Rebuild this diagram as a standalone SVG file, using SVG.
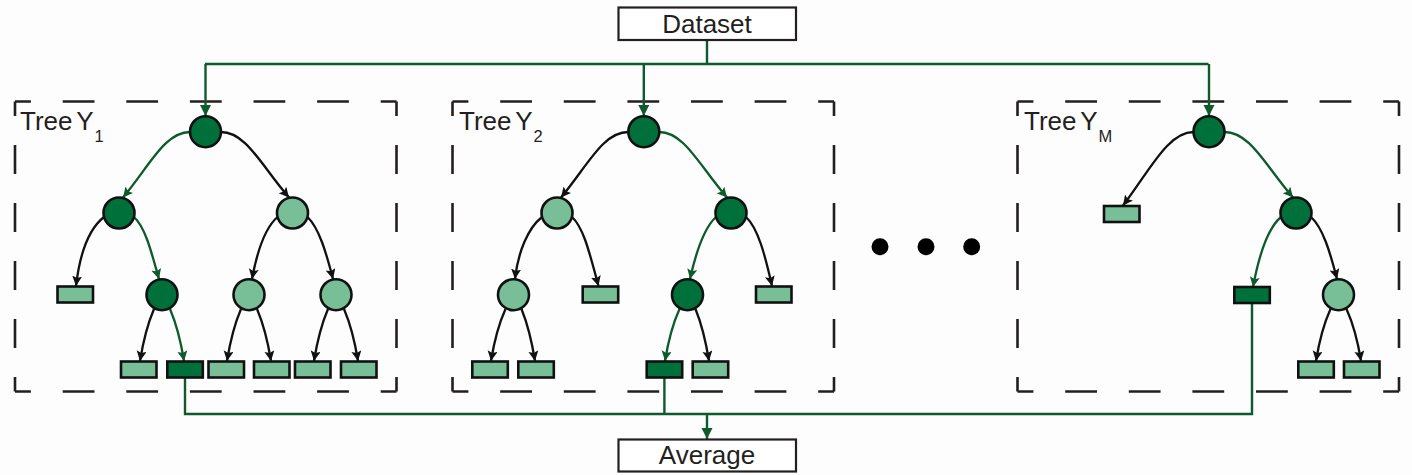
<svg xmlns="http://www.w3.org/2000/svg" width="1412" height="475" viewBox="0 0 1412 475">
<style>
.bg{fill:#fdfdfd}
.dash{stroke:#231f20;stroke-width:2.6;fill:none}
.h{stroke-dasharray:31.8 31.8;stroke-dashoffset:15.9}
.v{stroke-dasharray:29 29;stroke-dashoffset:14.5}
.nd{fill:#00703a;stroke:#111;stroke-width:2.6}
.nl{fill:#78bf98;stroke:#111;stroke-width:2.6}
.ld{fill:#00703a;stroke:#111;stroke-width:2.6}
.ll{fill:#78bf98;stroke:#111;stroke-width:2.6}
.eg{fill:none;stroke:#0d5a2c;stroke-width:2.3;marker-end:url(#ag)}
.eb{fill:none;stroke:#111;stroke-width:2.3;marker-end:url(#ab)}
.conn{fill:none;stroke:#0d5a2c;stroke-width:2.4}
.box{fill:#fff;stroke:#231f20;stroke-width:2.2}
.t{font-family:"Liberation Sans",Arial,sans-serif;fill:#231f20}
.lbl{font-size:26px;word-spacing:-3px}
.sub{font-size:16.5px}
</style>
<defs>
<marker id="ag" markerUnits="userSpaceOnUse" markerWidth="11" markerHeight="11" refX="10" refY="5" orient="auto"><path d="M0,0 L10,5 L0,10 L2,5 z" fill="#0d5a2c"/></marker>
<marker id="ab" markerUnits="userSpaceOnUse" markerWidth="11" markerHeight="11" refX="10" refY="5" orient="auto"><path d="M0,0 L10,5 L0,10 L2,5 z" fill="#111"/></marker>
<marker id="ac" markerUnits="userSpaceOnUse" markerWidth="12" markerHeight="12" refX="11" refY="5.5" orient="auto"><path d="M0,0 L11,5.5 L0,11 z" fill="#0d5a2c"/></marker>
</defs>
<rect class="bg" x="0" y="0" width="1412" height="475"/>

<g id="frames">
<path class="dash h" d="M15,101.5 H396.5 M15,391.5 H396.5"/>
<path class="dash v" d="M15,101.5 V391.5 M396.5,101.5 V391.5"/>
<path class="dash h" d="M452.5,101.5 H834 M452.5,391.5 H834"/>
<path class="dash v" d="M452.5,101.5 V391.5 M834,101.5 V391.5"/>
<path class="dash h" d="M1017.5,101.5 H1399 M1017.5,391.5 H1399"/>
<path class="dash v" d="M1017.5,101.5 V391.5 M1399,101.5 V391.5"/>
</g>

<g id="labels" class="t">
<text class="lbl" x="20" y="129.5">Tree Y<tspan class="sub" dx="1" dy="12">1</tspan></text>
<text class="lbl" x="459" y="129.5">Tree Y<tspan class="sub" dx="1" dy="12">2</tspan></text>
<text class="lbl" x="1024" y="129.5">Tree Y<tspan class="sub" dx="1" dy="12">M</tspan></text>
</g>

<g id="connectors">
<path class="conn" d="M707,40 V64 M205,64 H1208.5"/>
<path class="conn" marker-end="url(#ac)" d="M205.5,64 V116"/>
<path class="conn" marker-end="url(#ac)" d="M643.8,64 V116"/>
<path class="conn" marker-end="url(#ac)" d="M1209,64 V116"/>
<path class="conn" d="M185,377.5 V414 H1252 V302.5 M664.4,377.5 V414"/>
<path class="conn" marker-end="url(#ac)" d="M707,414 V439"/>

<path class="eg" d="M190,132 C165,132 150,165 123,197.5"/>
<path class="eb" d="M221,132 C246,132 261,165 289,197.5"/>
<path class="eb" d="M104,217 C90,228 80,252 76,286"/>
<path class="eg" d="M134,217 C146,228 152,255 159,279"/>
<path class="eb" d="M277.5,217 C265,228 257,252 252,279"/>
<path class="eb" d="M307.5,217 C319,228 326,252 333,279"/>
<path class="eb" d="M154,309 Q145,330 140,361"/>
<path class="eg" d="M170,309 Q179,330 184,361"/>
<path class="eb" d="M241,309 Q232,330 227,361"/>
<path class="eb" d="M257,309 Q266,330 271,361"/>
<path class="eb" d="M328,309 Q319,330 314,361"/>
<path class="eb" d="M344,309 Q353,330 358,361"/>

<path class="eb" d="M628.3,132 C603,132 588,165 561,197.5"/>
<path class="eg" d="M659.3,132 C684,132 699,165 727,197.5"/>
<path class="eb" d="M542,217 C528,228 518,252 515,279"/>
<path class="eb" d="M572,217 C584,228 590,255 598.5,286"/>
<path class="eg" d="M716,217 C704,228 696,252 690,279"/>
<path class="eb" d="M746,217 C758,228 765,255 772,286"/>
<path class="eb" d="M505.5,309 Q496,330 491,361"/>
<path class="eb" d="M521.5,309 Q530,330 535,361"/>
<path class="eg" d="M679.5,309 Q670,330 665,361"/>
<path class="eb" d="M695.5,309 Q704,330 709,361"/>

<path class="eb" d="M1193.5,132 C1168,132 1150,170 1123,205.5"/>
<path class="eg" d="M1224.5,132 C1250,132 1265,165 1293,197.5"/>
<path class="eg" d="M1281,217 C1268,228 1259,255 1253,287"/>
<path class="eb" d="M1311,217 C1323,228 1330,252 1337,279"/>
<path class="eb" d="M1330.5,309 Q1321,330 1316,361"/>
<path class="eb" d="M1346.5,309 Q1356,330 1361,361"/>
</g>

<g id="dataset"><rect class="box" x="618.5" y="7.5" width="177.5" height="32.5"/><text class="t" x="707" y="33" font-size="26" text-anchor="middle">Dataset</text></g>
<g id="average"><rect class="box" x="618.5" y="439.5" width="177.5" height="32"/><text class="t" x="707" y="464" font-size="26" text-anchor="middle">Average</text></g>

<g id="tree1">
<circle class="nd" cx="205.5" cy="131.7" r="15.5"/>
<circle class="nd" cx="119" cy="213" r="15.5"/>
<circle class="nl" cx="292.5" cy="213" r="15.5"/>
<rect class="ll" x="57.5" y="286.5" width="35.5" height="16"/>
<circle class="nd" cx="162" cy="294.7" r="15.5"/>
<circle class="nl" cx="249" cy="294.7" r="15.5"/>
<circle class="nl" cx="336" cy="294.7" r="15.5"/>
<rect class="ll" x="121" y="361.5" width="35.5" height="16"/>
<rect class="ld" x="167.3" y="361.5" width="35.5" height="16"/>
<rect class="ll" x="208.5" y="361.5" width="35.5" height="16"/>
<rect class="ll" x="254" y="361.5" width="35.5" height="16"/>
<rect class="ll" x="295" y="361.5" width="35.5" height="16"/>
<rect class="ll" x="341" y="361.5" width="35.5" height="16"/>
</g>

<g id="tree2">
<circle class="nd" cx="643.8" cy="131.7" r="15.5"/>
<circle class="nl" cx="557" cy="213" r="15.5"/>
<circle class="nd" cx="731" cy="213" r="15.5"/>
<circle class="nl" cx="513.5" cy="294.7" r="15.5"/>
<rect class="ll" x="582.7" y="286.5" width="35.5" height="16"/>
<circle class="nd" cx="687.5" cy="294.7" r="15.5"/>
<rect class="ll" x="756" y="286.5" width="35.5" height="16"/>
<rect class="ll" x="472.3" y="361.5" width="35.5" height="16"/>
<rect class="ll" x="518.3" y="361.5" width="35.5" height="16"/>
<rect class="ld" x="646.7" y="361.5" width="35.5" height="16"/>
<rect class="ll" x="692.7" y="361.5" width="35.5" height="16"/>
</g>

<g id="ellipsis" fill="#000">
<circle cx="880" cy="246.7" r="8.5"/>
<circle cx="926" cy="246.7" r="8.5"/>
<circle cx="971.7" cy="246.7" r="8.5"/>
</g>

<g id="tree3">
<circle class="nd" cx="1209" cy="131.7" r="15.5"/>
<rect class="ll" x="1104" y="206" width="35.5" height="16"/>
<circle class="nd" cx="1296" cy="213" r="15.5"/>
<rect class="ld" x="1234.3" y="287" width="35.5" height="16"/>
<circle class="nl" cx="1338.5" cy="294.7" r="15.5"/>
<rect class="ll" x="1298.3" y="361.5" width="35.5" height="16"/>
<rect class="ll" x="1344" y="361.5" width="35.5" height="16"/>
</g>
</svg>
